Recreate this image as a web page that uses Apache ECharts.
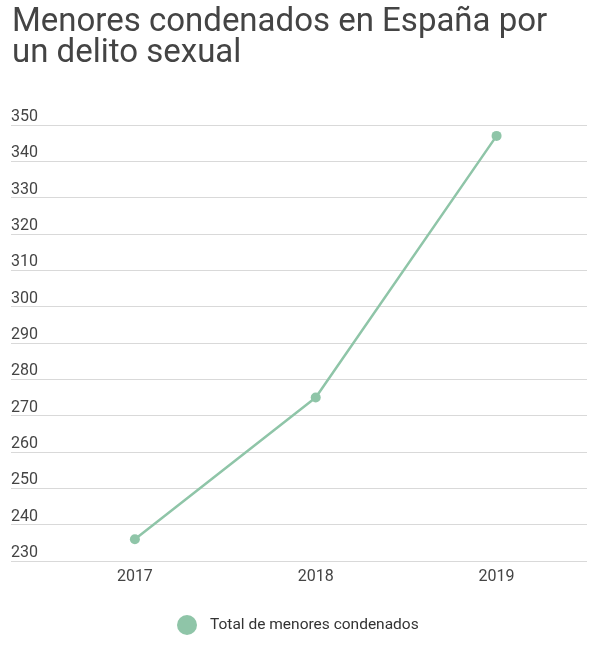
<!DOCTYPE html>
<html>
<head>
<meta charset="utf-8">
<script src="https://cdn.jsdelivr.net/npm/echarts@6/dist/echarts.min.js"></script>
<style>
  html, body { margin: 0; padding: 0; background: #fff; }
  #chart { width: 605px; height: 656px; }
</style>
</head>
<body>
<div id="chart"></div>
<script>
const years = [2017, 2018, 2019];
const condenados = [236, 275, 347];
const seriesName = 'Total de menores condenados';
const titleText = 'Menores condenados en España por\nun delito sexual';

const myChart = echarts.init(document.getElementById('chart'));

const option = {
    animation: false,
    textStyle: {fontFamily: 'Roboto'},
    title: {
        text: titleText,
        left: 7,
        top: 2,
        textStyle: {
            fontFamily: 'Roboto',
            fontSize: 33,
            fontWeight: 'normal',
            lineHeight: 31,
            color: '#444',
        },
    },
    legend: {
        bottom: 16,
        left: 172,
        icon: 'circle',
        itemWidth: 20,
        itemHeight: 20,
        itemGap: 10,
        textStyle: {fontSize: 15.5, color: '#333', padding: [0, 0, 0, 8]},
        data: [seriesName],
    },
    grid: {left: 11, right: 18, top: 125, bottom: 95},
    xAxis: {
        type: 'value',
        // plot area runs half a year past the last point, more on the left for labels
        min: 2016.315,
        max: 2019.5,
        axisLine: {show: false},
        axisTick: {show: false},
        splitLine: {show: false},
        axisLabel: {
            customValues: years,
            margin: 8,
            fontSize: 16,
            color: '#444',
            formatter: (v) => String(v),
        },
    },
    yAxis: {
        type: 'value',
        min: 230,
        max: 350,
        interval: 10,
        axisLine: {show: false},
        axisTick: {show: false},
        splitLine: {lineStyle: {color: '#d9d9d9', width: 1}},
        axisLabel: {
            inside: true,
            verticalAlign: 'bottom',
            margin: 0,
            padding: [0, 0, 0, 0],
            fontSize: 16,
            color: '#444',
        },
    },
    series: [
        {
            name: seriesName,
            type: 'line',
            data: years.map((y, i) => [y, condenados[i]]),
            symbol: 'circle',
            symbolSize: 10,
            lineStyle: {color: '#8fc5a8', width: 2.5},
            itemStyle: {color: '#8fc5a8'},
        },
    ],
};

myChart.setOption(option);
</script>
</body>
</html>
